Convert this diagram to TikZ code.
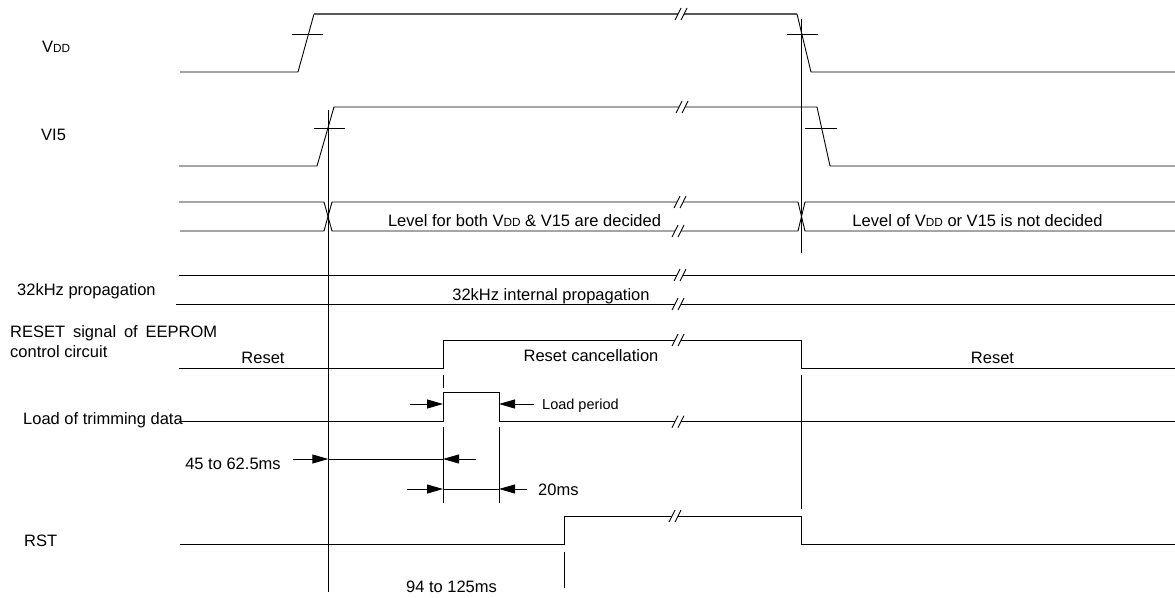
\documentclass[tikz,border=0pt]{standalone}
\usepackage{fontspec}
\setmainfont{Liberation Sans}
\usetikzlibrary{arrows.meta}
\newcommand\Vdd{V{\fontsize{11.8}{12}\selectfont DD}}
\begin{document}
\begin{tikzpicture}[x=1pt,y=-1pt,
  sig/.style={line width=0.9pt, line join=miter},
  thick sig/.style={line width=1.4pt, draw=black!65},
  arr/.style={sig, -{Triangle[length=16pt,width=9pt]}},
  lbl/.style={inner sep=0pt, text height=11.8pt, text depth=0pt, font=\fontsize{16.5}{20}\selectfont},
  small/.style={inner sep=0pt, text height=10.4pt, text depth=0pt, font=\fontsize{14.5}{17}\selectfont},
  brk/.pic={\fill[white] (-3,-3.5) rectangle (3,3.5);
            \draw[sig] (-6,6) -- (0,-6) (0,6) -- (6,-6);}]
\useasboundingbox (0,0) rectangle (1175,597);

% VDD
\draw[sig] (180,72) -- (298,72) -- (314,14);
\draw[thick sig] (314,14) -- (797,14);
\draw[sig] (797,14) -- (811,72) -- (1175,72);
\draw[sig] (292,34) -- (323,34) (787,34) -- (818,34);
\pic at (681,14) {brk};
% VI5
\draw[sig] (179,166) -- (317,166) -- (334,107) -- (817,107) -- (830,166) -- (1175,166);
\draw[sig] (314,128) -- (345,128) (805,128) -- (837,128);
\pic at (682,107) {brk};
% bus
\draw[sig] (179,202) -- (324,202) -- (332,231) -- (798,231) -- (805,202) -- (1175,202);
\draw[sig] (180,231) -- (324,231) -- (332,202) -- (798,202) -- (805,231) -- (1175,231);
\pic at (680,202) {brk};
\pic at (678,231) {brk};
% 32 kHz
\draw[sig] (179,275) -- (1175,275);
\draw[sig] (176,304) -- (1175,304);
\pic at (680,275) {brk};
\pic at (678,304) {brk};
% RESET
\draw[sig] (179,368) -- (443,368) -- (443,340) -- (801.7,340) -- (801.7,368) -- (1175,368);
\pic at (678,340) {brk};
% Load
\draw[sig] (179,421.7) -- (443,421.7) -- (443,392) -- (499,392) -- (499,421.7) -- (1175,421.7);
\pic at (678,421.7) {brk};
% RST
\draw[sig] (180,544) -- (564,544) -- (564,516) -- (801.7,516) -- (801.7,544) -- (1175,544);
\pic at (675,516) {brk};

% vertical guides
\draw[sig] (328.3,110) -- (328.3,592);
\draw[sig] (801.7,19) -- (801.7,253);
\draw[sig] (801.7,375) -- (801.7,509);
\draw[sig] (443,375) -- (443,388);
\draw[sig] (443,427) -- (443,503);
\draw[sig] (499,427) -- (499,503);
\draw[sig] (564,552) -- (564,588);

% arrows
\draw[arr] (410,404) -- (443,404);
\draw[arr] (534,404) -- (499,404);
\draw[arr] (293,459) -- (328.3,459);
\draw[sig] (328.3,459) -- (443,459);
\draw[arr] (476,459) -- (443,459);
\draw[arr] (407,489) -- (443,489);
\draw[sig] (443,489) -- (499,489);
\draw[arr] (527,489) -- (499,489);

% labels
\node[lbl, anchor=west] (lvdd) at (42,47) {\Vdd};
\node[lbl, anchor=west] (lvi5) at (41,135) {VI5};
\node[lbl] (lboth) at (524.5,221) {Level for both \Vdd{} \& V15 are decided};
\node[lbl] (lnot) at (977.5,221) {Level of \Vdd{} or V15 is not decided};
\node[lbl, anchor=west] (l32) at (17,290) {32kHz propagation};
\node[lbl] (l32i) at (551,295) {32kHz internal propagation};
\node[lbl, anchor=west] (lrs1) at (10,332) {\makebox[207pt][s]{RESET signal of EEPROM}};
\node[lbl, anchor=west] (lrs2) at (10,352) {control circuit};
\node[lbl] (lres1) at (263,358) {Reset};
\node[lbl] (lresc) at (591,356) {Reset cancellation};
\node[lbl] (lres2) at (992.5,358) {Reset};
\node[lbl, anchor=west] (lload) at (23,419) {Load of trimming data};
\node[small, anchor=west] (lperiod) at (542,404) {Load period};
\node[lbl] (l45) at (233,464) {45 to 62.5ms};
\node[lbl, anchor=west] (l20) at (538,490) {20ms};
\node[lbl, anchor=west] (lrst) at (24,541) {RST};
\node[lbl] (l94) at (451.5,587) {94 to 125ms};
\end{tikzpicture}
\end{document}
